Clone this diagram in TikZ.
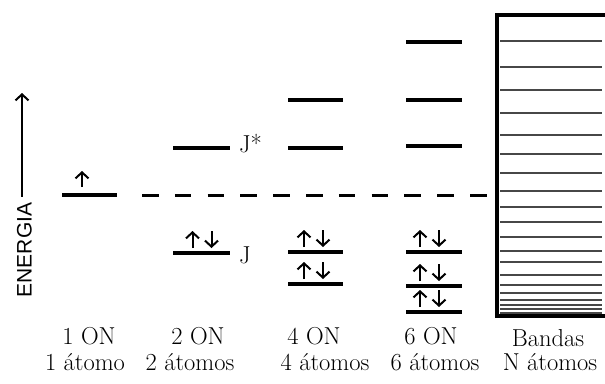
\documentclass[tikz,border=0pt]{standalone}
\usepackage{fontspec}
\newfontfamily\energiafont{Liberation Sans}
\usetikzlibrary{arrows.meta, positioning}
\tikzset{
level/.style={line width=3.6pt}, % one energy level
fermi/.style={line width=3pt, dash pattern=on 16.5pt off 16.3pt},
spin/.style={line width=2pt, -{Straight Barb[length=6pt,width=13pt,line width=2pt]}},
band/.style={line width=2pt, black!72},
lbl/.style={font=\fontsize{24.5}{24.5}\selectfont, anchor=base, inner sep=0pt},
}
% a pair of opposite spins sitting on a level
\newcommand{\spinpair}[2]{%
\draw[spin] (#1-9.5,#2-5) -- (#1-9.5,#2-22);
\draw[spin] (#1+9.5,#2-22) -- (#1+9.5,#2-5);
}

\begin{document}
\begin{tikzpicture}[x=1pt,y=-1pt]
\useasboundingbox (0,0) rectangle (605,383);

% energy axis
\node[rotate=90, font=\energiafont\fontsize{21}{21}\selectfont, inner sep=0pt] (energia) at (24.5,250) {ENERGIA};
\coordinate (etop) at (22,93);
\draw[spin, line width=1.4pt] ([yshift=6pt]energia.east -| etop) -- (etop);

% 1 ON
\draw[level] (62,195) -- (117,195);
\draw[spin] (82,187) -- (82,171);

% dashed reference level
\draw[fermi] (142,195) -- (489,195);

% 2 ON
\coordinate (jstar) at (230,148);
\coordinate (j) at (230,253);
\draw[level] (173,148) -- (jstar);
\draw[level] (173,253) -- (j);
\spinpair{202}{253}
\node[lbl, right=9pt of jstar, yshift=4pt] (jslab) {J*};
\node[lbl, right=9pt of j, yshift=-2pt] (jlab) {J};

% 4 ON
\foreach \y in {100,148,252,284}
  \draw[level] (288,\y) -- (343,\y);
\spinpair{313.5}{252}
\spinpair{313.5}{284}

% 6 ON
\foreach \y in {42,100,146,252,286,312}
  \draw[level] (406,\y) -- (462,\y);
\spinpair{429.5}{252}
\spinpair{429.5}{286}
\spinpair{429.5}{312}

% bands
\draw[line width=4pt] (610,15) -- (497,15) -- (497,316) -- (610,316);
\foreach \y in {41,67,90,113,135,154,173,191,207,222,237,251,262,275,285,293,300,305,309,313}
  \draw[band] (500,\y) -- (602,\y);

% labels
\node[lbl] (on1) at (89,344) {1 ON};
\node[lbl] (on2) at (198,344) {2 ON};
\node[lbl] (on4) at (314,344) {4 ON};
\node[lbl] (on6) at (431,344) {6 ON};
\node[lbl] (bandas) at (548,346) {Bandas};
\node[lbl] (at1) at (85,370) {1 átomo};
\node[lbl] (at2) at (190,370) {2 átomos};
\node[lbl] (at4) at (325,370) {4 átomos};
\node[lbl] (at6) at (435,370) {6 átomos};
\node[lbl] (atN) at (550,370) {N átomos};
\end{tikzpicture}
\end{document}
